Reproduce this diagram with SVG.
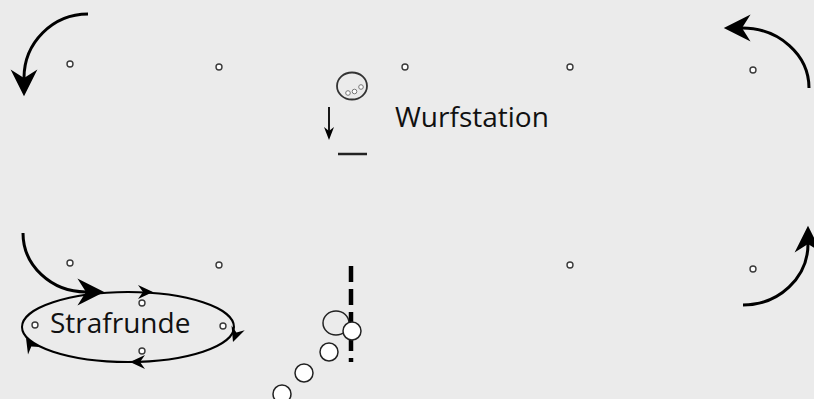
<svg xmlns="http://www.w3.org/2000/svg" width="814" height="399" viewBox="0 0 814 399">
  <style>
    .cone { fill: #ffffff; stroke: #3a3a3a; stroke-width: 1.4; }
    .arc { fill: none; stroke: #000; stroke-width: 3; }
    .lbl { font-family: "Open Sans", "Liberation Sans", sans-serif; fill: #111; }
    .ball { fill: #ffffff; stroke: #222; stroke-width: 1.5; }
    .head { fill: #000; }
  </style>
  <defs>
    <marker id="big" markerUnits="userSpaceOnUse" markerWidth="30" markerHeight="30" viewBox="0 -14 26 28" refX="8" refY="0" orient="auto">
      <path d="M25,0 L0,-12.5 L8,0 L0,12.5 Z" fill="#000"/>
    </marker>
    <path id="sm" d="M0,0 L-15,-7 L-10,0 L-15,7 Z"/>
  </defs>
  <rect x="0" y="0" width="814" height="399" fill="#ebebeb"/>

  <g id="cones">
    <circle class="cone" cx="70" cy="64" r="3"/>
    <circle class="cone" cx="219" cy="67" r="3"/>
    <circle class="cone" cx="405" cy="67" r="3"/>
    <circle class="cone" cx="570" cy="67" r="3"/>
    <circle class="cone" cx="753" cy="70" r="3"/>
    <circle class="cone" cx="70" cy="263" r="3"/>
    <circle class="cone" cx="219" cy="265" r="3"/>
    <circle class="cone" cx="570" cy="265" r="3"/>
    <circle class="cone" cx="753" cy="269" r="3"/>
  </g>

  <g id="strafrunde">
    <ellipse cx="128" cy="327" rx="106" ry="35" fill="none" stroke="#000" stroke-width="2"/>
    <circle class="cone" cx="35" cy="325" r="3"/>
    <circle class="cone" cx="142" cy="303" r="3"/>
    <circle class="cone" cx="223" cy="326" r="3"/>
    <circle class="cone" cx="142" cy="351" r="3"/>
    <text class="lbl" x="50" y="333" font-size="28">Strafrunde</text>
    <use href="#sm" class="head" transform="translate(153,292)"/>
    <use href="#sm" class="head" transform="translate(233,342) rotate(110)"/>
    <use href="#sm" class="head" transform="translate(130,362) rotate(180)"/>
    <use href="#sm" class="head" transform="translate(26,338) rotate(238)"/>
  </g>

  <g id="wurfstation">
    <ellipse cx="352" cy="86" rx="15" ry="13.5" fill="none" stroke="#333" stroke-width="1.8"/>
    <circle cx="348" cy="93" r="2.3" fill="#fff" stroke="#777" stroke-width="1"/>
    <circle cx="354.5" cy="91.5" r="2.3" fill="#fff" stroke="#777" stroke-width="1"/>
    <circle cx="361" cy="87" r="2.3" fill="#fff" stroke="#777" stroke-width="1"/>
    <line x1="329" y1="107" x2="329" y2="132" stroke="#000" stroke-width="1.8"/>
    <path d="M329,140 L324,127 L329,131 L334,127 Z" fill="#000"/>
    <line x1="338" y1="154" x2="367" y2="154" stroke="#222" stroke-width="2.5"/>
    <text class="lbl" x="395" y="127" font-size="28">Wurfstation</text>
  </g>

  <g id="schiesslinie">
    <line x1="351" y1="266" x2="351" y2="362" stroke="#000" stroke-width="4.5" stroke-dasharray="16 7"/>
    <ellipse cx="336" cy="323" rx="13" ry="12" fill="none" stroke="#222" stroke-width="1.5"/>
    <circle class="ball" cx="352" cy="331" r="9"/>
    <circle class="ball" cx="329" cy="352" r="9"/>
    <circle class="ball" cx="304" cy="373" r="9"/>
    <circle class="ball" cx="282" cy="394" r="9"/>
  </g>

  <g id="connectors">
    <path class="arc" d="M88,14 A64,64 0 0 0 24,78" marker-end="url(#big)"/>
    <path class="arc" d="M809,88 A67,60 0 0 0 742,28" marker-end="url(#big)"/>
    <path class="arc" d="M743,305 A65,61 0 0 0 808,244" marker-end="url(#big)"/>
    <path class="arc" d="M23,233 A63,59 0 0 0 86,292" marker-end="url(#big)"/>
  </g>
</svg>
